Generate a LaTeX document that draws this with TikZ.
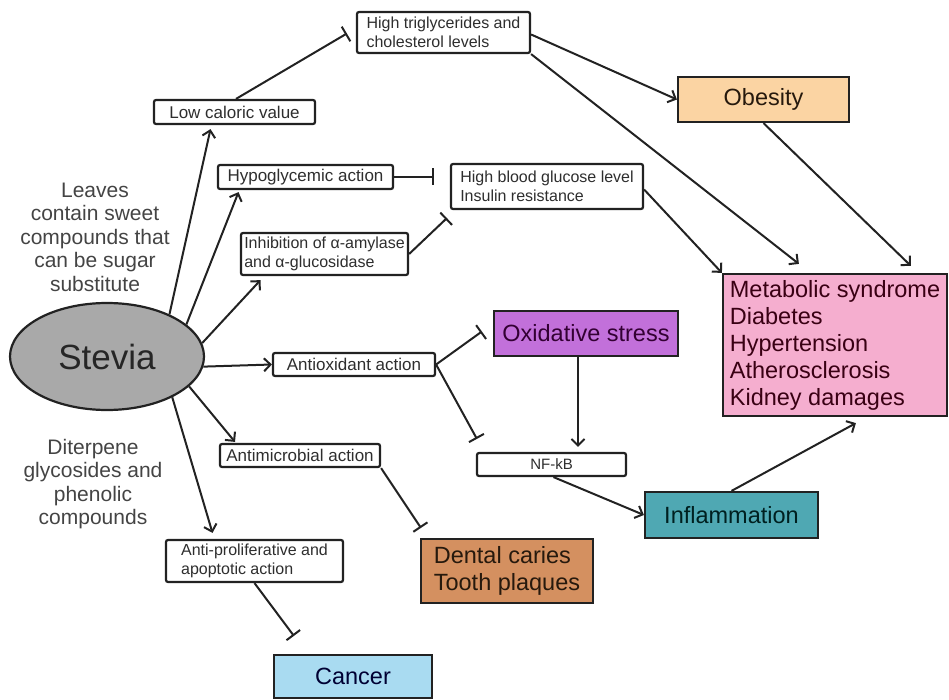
\documentclass[tikz,border=0pt]{standalone}
\usepackage{fontspec}
\setmainfont{Liberation Sans}
\usetikzlibrary{arrows.meta,calc,shapes.geometric}
\definecolor{linec}{HTML}{222222}
\definecolor{txt}{HTML}{2E2E2E}
\definecolor{gtxt}{HTML}{444444}
\definecolor{steviac}{HTML}{A9A9A9}
\definecolor{obesc}{HTML}{FBD4A3}
\definecolor{metac}{HTML}{F5AECF}
\definecolor{oxidc}{HTML}{C270DA}
\definecolor{inflc}{HTML}{4FA8B3}
\definecolor{dentc}{HTML}{D49060}
\definecolor{cancc}{HTML}{A9DBF1}
\begin{document}
\begin{tikzpicture}[x=1pt,y=-1pt,
  sbox/.style={draw=linec, line width=2.2pt, rounded corners=2pt, fill=white, inner sep=0pt, text=txt, font=\fontsize{17}{19}\selectfont},
  tbox/.style={sbox, align=left, font=\fontsize{16}{18.5}\selectfont},
  cbox/.style={draw=linec, line width=2.2pt, inner sep=0pt, font=\fontsize{23.5}{27}\selectfont},
  side/.style={text=gtxt, align=center, font=\fontsize{21}{23.5}\selectfont},
  arr/.style={line width=2pt, draw=linec, -{Straight Barb[length=6.5pt,width=13pt,line width=2pt]}},
  inhib/.style={line width=2pt, draw=linec, -{Bar[width=17pt,line width=2pt]}},
]
\useasboundingbox (0,0) rectangle (949,700);
\clip (0,0) rectangle (949,700);

% side texts
\node[side] (leaves) at (95,237) {Leaves\\contain sweet\\compounds that\\can be sugar\\substitute};
\node[side] (diter) at (93,484) {Diterpene\\glycosides and\\phenolic\\compounds};

% Stevia
\node[ellipse, draw=linec, line width=2.2pt, fill=steviac, minimum width=194, minimum height=107, inner sep=0pt, text=black!85, font=\fontsize{35}{40}\selectfont] (stevia) at (107,356.5) {Stevia};

% small boxes
\node[sbox, minimum width=161, minimum height=24] (low) at (234.5,112) {Low caloric value};
\node[tbox, minimum width=173, minimum height=41] (trig) at (443.5,32.5) {High triglycerides and\\cholesterol levels};
\node[sbox, minimum width=175, minimum height=24] (hypo) at (305.5,177) {Hypoglycemic action};
\node[tbox, minimum width=192, minimum height=45] (hbg) at (547,186.5) {High blood glucose level\\Insulin resistance};
\node[tbox, minimum width=167, minimum height=42] (inh) at (324.5,254) {Inhibition of α-amylase\\and α-glucosidase};
\node[sbox, minimum width=162, minimum height=23] (antiox) at (354,364.5) {Antioxidant action};
\node[sbox, minimum width=149, minimum height=23, font=\fontsize{15}{17}\selectfont] (nfkb) at (551.5,464.5) {NF-kB};
\node[sbox, minimum width=160, minimum height=23] (antim) at (300,455.5) {Antimicrobial action};
\node[tbox, minimum width=177, minimum height=42] (antip) at (254.5,561) {Anti-proliferative and\\apoptotic action};

% coloured boxes
\node[cbox, fill=obesc, text=black!80!brown, minimum width=171, minimum height=45] (obes) at (763.5,99.5) {Obesity};
\node[cbox, fill=metac, text=black!70!purple, align=left, minimum width=224, minimum height=142] (meta) at (835,345) {Metabolic syndrome\\Diabetes\\Hypertension\\Atherosclerosis\\Kidney damages};
\node[cbox, fill=oxidc, text=black!60!violet, minimum width=184, minimum height=45] (oxid) at (586,333.5) {Oxidative stress};
\node[cbox, fill=inflc, text=black!75!teal, minimum width=173, minimum height=46] (infl) at (731.5,515) {Inflammation};
\node[cbox, fill=dentc, text=black!80!brown, align=left, minimum width=172, minimum height=64] (dent) at (507,571) {Dental caries\\Tooth plaques};
\node[cbox, fill=cancc, text=black!80!blue, minimum width=158, minimum height=43] (cancer) at (353,676.5) {Cancer};

% arrows from Stevia
\draw[arr] (stevia.34) -- ($(low.south)+(-24,4)$);
\draw[arr] (stevia.22) -- ($(hypo.south)+(-67,2)$);
\draw[arr] (stevia.8) -- ($(inh.south)+(-64,4)$);
\draw[arr] (stevia.-6) -- (antiox.west);
\draw[arr] (stevia.-20) -- ($(antim.north)+(-65,-1)$);
\draw[arr] (stevia.-32) -- ($(antip.north)+(-42,-6)$);

% inhibitions
\draw[inhib] ($(low.north)+(1.5,0)$) -- ($(trig.west)+(-9,1)$);
\draw[inhib] (hypo.east) -- ($(hypo.east)+(40,0)$);
\draw[inhib] (inh.east) -- ($(hbg.south west)+(-3,8)$);
\draw[inhib] (antiox.east) -- ($(oxid.west)+(-11,-2)$);
\draw[inhib] (antiox.east) -- ($(nfkb.north west)+(1,-13)$);
\draw[inhib] (antim.south east) -- ($(dent.north west)+(1,-10)$);
\draw[inhib] (antip.south) -- ($(cancer.north west)+(21,-18)$);

% activations
\draw[arr] ($(trig.east)+(0,2)$) -- (obes.west);
\draw[arr] (trig.south east) -- ($(meta.north west)+(77,-9)$);
\draw[arr] (obes.south) -- ($(meta.north west)+(189,-7)$);
\draw[arr] ($(hbg.east)+(0,3)$) -- (meta.north west);
\coordinate (ox) at ($(oxid.south)+(-8,0)$);
\draw[arr] (ox) -- ($(ox |- nfkb.north)+(0,-5)$);
\draw[arr] ($(nfkb.south)+(2,0)$) -- (infl.west);
\draw[arr] (infl.north) -- ($(meta.south west)+(134,6)$);
\end{tikzpicture}
\end{document}
